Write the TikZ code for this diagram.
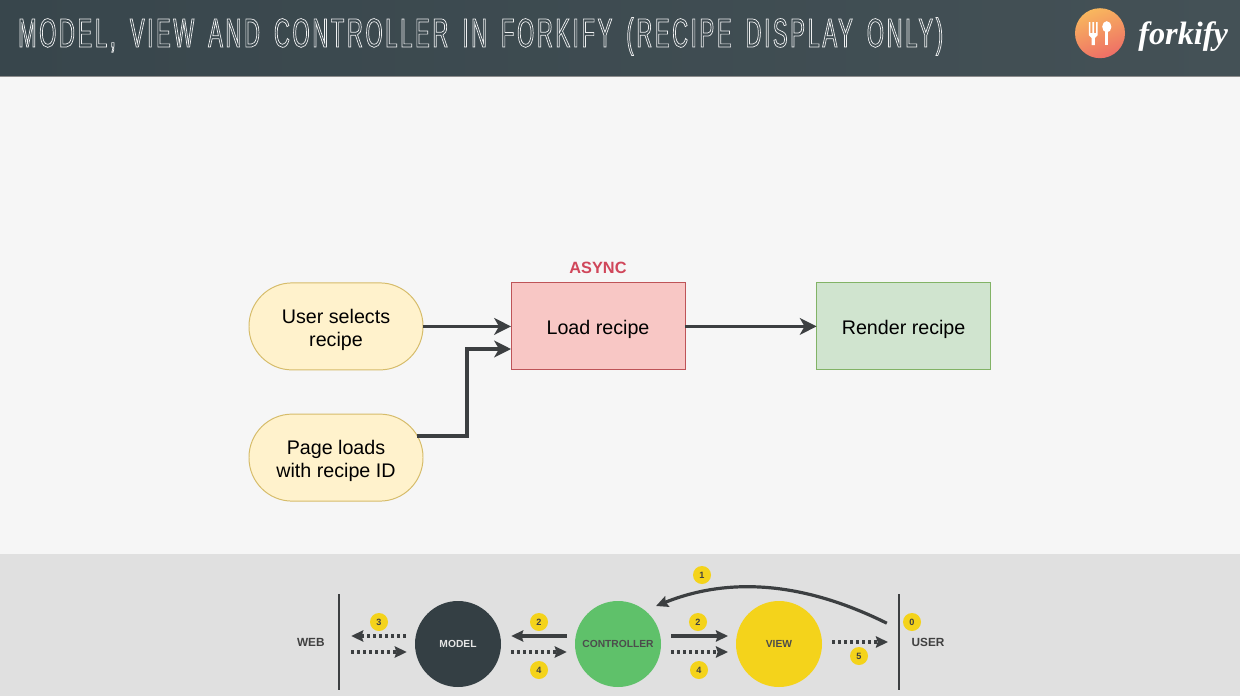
\documentclass[tikz,border=0pt]{standalone}
\usepackage{fontspec}
\usepackage{xcolor}
\setmainfont{Liberation Sans}
\newfontfamily\titlefont[FakeStretch=0.54,LetterSpace=6.5,WordSpace=1.6]{Liberation Sans}
\newfontfamily\logofont{Liberation Serif}
\usetikzlibrary{positioning, arrows.meta, calc}
\definecolor{headleft}{HTML}{38464C}
\definecolor{headright}{HTML}{445156}
\definecolor{arrowgray}{HTML}{3C3F41}
\definecolor{pillfill}{HTML}{FFF2CC}
\definecolor{pilledge}{HTML}{D6BC6A}
\definecolor{loadfill}{HTML}{F8C7C5}
\definecolor{loadedge}{HTML}{BE5458}
\definecolor{renderfill}{HTML}{D0E4CF}
\definecolor{renderedge}{HTML}{82B366}
\definecolor{asynctext}{HTML}{D0465A}
\definecolor{modelfill}{HTML}{343F44}
\definecolor{ctrlfill}{HTML}{5FC16A}
\definecolor{viewfill}{HTML}{F4D31B}
\definecolor{logoleft}{HTML}{F8B75E}
\definecolor{logoright}{HTML}{EE6E66}
\begin{document}
\begin{tikzpicture}[
  font=\fontsize{14}{16.4}\selectfont,
  flowbox/.style={draw, minimum width=4.35cm, minimum height=2.175cm, align=center,
                  outer sep=0pt, line width=0.7pt, execute at begin node={\rule{0pt}{14pt}}},
  pill/.style={flowbox, draw=pilledge, fill=pillfill, rounded corners=1.08cm,
               execute at begin node={\rule{0pt}{31pt}}},
  loadbox/.style={flowbox, fill=loadfill, draw=loadedge},
  renderbox/.style={flowbox, fill=renderfill, draw=renderedge},
  ball/.style={circle, minimum size=2.15cm, inner sep=0pt, outer sep=0pt,
               font=\fontsize{7.3}{9}\selectfont\bfseries},
  badge/.style={circle, fill=viewfill, minimum size=0.45cm, inner sep=0pt,
                text=black!75, font=\fontsize{6.5}{8}\selectfont\bfseries},
  side/.style={text=black!75, font=\fontsize{8.4}{10}\selectfont\bfseries},
  arrow/.style={-{Stealth[length=0.42cm,width=0.42cm,inset=0.12cm]}, line width=0.09cm, arrowgray},
  thinarrow/.style={-{Stealth[length=0.3cm,width=0.28cm,inset=0.04cm]}, line width=0.08cm, arrowgray},
  dotarrow/.style={thinarrow, dash pattern=on 0.08cm off 0.07cm},
  divider/.style={line width=0.07cm, arrowgray}
]
\useasboundingbox (0,0) rectangle (31,-17.4);

% ── Background bands ─────────────────────────────────────
\fill[black!3.5] (0,0) rectangle (31,-13.85);
\fill[black!12] (0,-13.85) rectangle (31,-17.4);
\shade[left color=headleft, right color=headright] (0,0) rectangle (31,-1.9);
\draw[black!45, line width=0.5pt] (0,-1.91) -- (31,-1.91);

% ── Title and logo ───────────────────────────────────────
\node[anchor=base west, inner sep=0pt, text=white!92!headleft, font=\titlefont\fontsize{29}{32}\selectfont]
  (title) at (0.45,-1.175)
  {\special{pdf:code 1 Tr 0.5 w}MODEL, VIEW AND CONTROLLER IN FORKIFY (RECIPE DISPLAY ONLY)\special{pdf:code 0 Tr}};

\shade[left color=logoleft, right color=logoright, shading angle=20]
  (27.5,-0.83) circle (0.625);
\fill[white] (27.22,-0.55) -- (27.26,-0.55) -- (27.26,-0.83) -- (27.31,-0.83) -- (27.31,-0.55)
  -- (27.35,-0.55) -- (27.35,-0.83) -- (27.4,-0.83) -- (27.4,-0.55) -- (27.44,-0.55)
  -- (27.44,-0.88) -- (27.37,-0.95) -- (27.37,-1.13) -- (27.29,-1.13) -- (27.29,-0.95)
  -- (27.22,-0.88) -- cycle;
\fill[white] (27.67,-0.67) ellipse (0.115 and 0.14);
\fill[white] (27.63,-0.75) rectangle (27.71,-1.13);
\node[anchor=base west, inner sep=0pt, text=white, font=\logofont\fontsize{23}{26}\selectfont\bfseries\itshape]
  (logo) at (28.45,-1.1) {forkify};

% ── Flow: recipe display ─────────────────────────────────
\node[pill] (select) at (8.4,-8.16)  {User selects\\recipe};
\node[pill] (page)   at (8.4,-11.44) {Page loads\\with recipe ID};
\node[loadbox]   (load)   at (14.95,-8.16) {Load recipe};
\node[renderbox] (render) at (22.59,-8.16) {Render recipe};
\node[above=0.22cm of load, inner sep=0pt, text=asynctext,
      font=\fontsize{11.6}{14}\selectfont\bfseries] (async) {ASYNC};

\coordinate (pageexit) at (10.43,-10.9);
\coordinate (pagebend) at (11.68,-8.725);
\coordinate (loadentry) at (12.775,-8.725);

\draw[arrow] (select) -- (load);
\draw[arrow] (load) -- (render);
\draw[arrow] (pageexit) -| (pagebend) -- (loadentry);

% ── Bottom: MVC strip ────────────────────────────────────
\node[ball, fill=modelfill, text=white!90!black] (model) at (11.45,-16.1) {MODEL};
\node[ball, fill=ctrlfill, text=black!70] (ctrl) at (15.45,-16.1) {CONTROLLER};
\node[ball, fill=viewfill, text=black!70] (view) at (19.475,-16.1) {VIEW};

\node[side] (web)  at (7.77,-16.05)  {WEB};
\node[side] (user) at (23.2,-16.05) {USER};

\coordinate (webtop) at (8.475,-14.85);
\coordinate (webbot) at (8.475,-17.25);
\coordinate (usertop) at (22.475,-14.85);
\coordinate (userbot) at (22.475,-17.25);
\draw[divider] (webtop) -- (webbot);
\draw[divider] (usertop) -- (userbot);

% ── Free ends of the strip arrows ────────────────────────
\coordinate (wa) at (8.78,-15.9);   \coordinate (ma) at (10.15,-15.9);
\coordinate (wb) at (8.78,-16.3);   \coordinate (mb) at (10.17,-16.3);
\coordinate (mc) at (12.78,-15.9);  \coordinate (ca) at (14.17,-15.9);
\coordinate (md) at (12.78,-16.3);  \coordinate (cb) at (14.17,-16.3);
\coordinate (ce) at (16.78,-15.9);  \coordinate (va) at (18.2,-15.9);
\coordinate (cf) at (16.78,-16.3);  \coordinate (vb) at (18.2,-16.3);
\coordinate (vc) at (20.8,-16.05);  \coordinate (ua) at (22.2,-16.05);
\coordinate (ub) at (22.17,-15.58); \coordinate (cc) at (16.4,-15.15);

\draw[dotarrow] (ma) -- (wa);
\draw[dotarrow] (wb) -- (mb);
\draw[thinarrow] (ca) -- (mc);
\draw[dotarrow] (md) -- (cb);
\draw[thinarrow] (ce) -- (va);
\draw[dotarrow] (cf) -- (vb);
\draw[dotarrow] (vc) -- (ua);
\draw[thinarrow] (ub) .. controls (20.3,-14.65) and (18.4,-14.35) .. (cc);

% ── Step badges ──────────────────────────────────────────
\node[badge] (b3)  at (9.475,-15.55)  {3};
\node[badge] (b2)  at (13.475,-15.55) {2};
\node[badge] (b4)  at (13.475,-16.75) {4};
\node[badge] (b1)  at (17.55,-14.375) {1};
\node[badge] (b2r) at (17.45,-15.55)  {2};
\node[badge] (b4r) at (17.475,-16.75) {4};
\node[badge] (b0)  at (22.8,-15.55)   {0};
\node[badge] (b5)  at (21.475,-16.4)  {5};

\end{tikzpicture}
\end{document}
